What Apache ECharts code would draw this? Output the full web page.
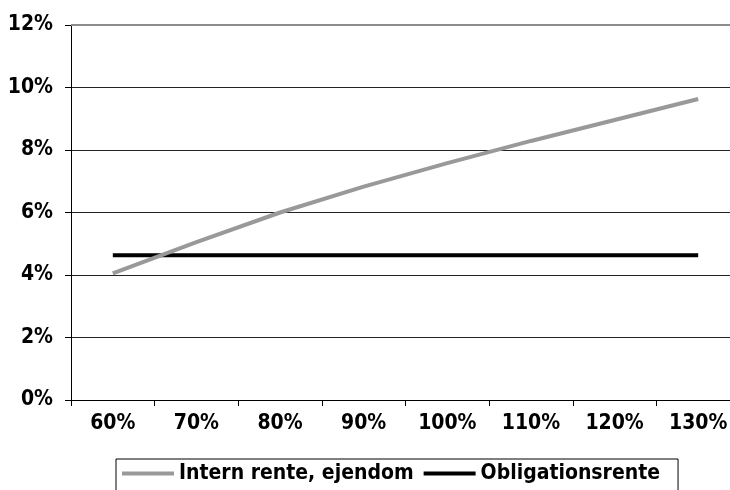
<!DOCTYPE html>
<html>
<head>
<meta charset="utf-8">
<script src="https://cdn.jsdelivr.net/npm/echarts@6/dist/echarts.min.js"></script>
<style>
  html, body { margin: 0; padding: 0; background: #fff; }
  #chart { width: 730px; height: 490px; }
</style>
</head>
<body>
<div id="chart"></div>
<script>
// Belåningsgrad (kategorier) og renter i procent
const categories = ['60%', '70%', '80%', '90%', '100%', '110%', '120%', '130%'];
const internRente = [4.05, 5.05, 6.0, 6.83, 7.58, 8.29, 8.96, 9.63];
const obligationsRente = [4.63, 4.63, 4.63, 4.63, 4.63, 4.63, 4.63, 4.63];
const seriesNames = ['Intern rente, ejendom', 'Obligationsrente'];

const FONT = '"DejaVu Sans Condensed", "DejaVu Sans", sans-serif';

const chart = echarts.init(document.getElementById('chart'), null, { renderer: 'canvas' });
chart.setOption({
  animation: false,
  backgroundColor: '#ffffff',
  // plot area runs a little past the right edge of the canvas
  grid: { left: 71, top: 25, width: 669, height: 375, outerBoundsMode: 'none' },
  xAxis: {
    type: 'category',
    data: categories,
    boundaryGap: true,
    axisLine: { lineStyle: { color: '#000', width: 1 } },
    axisTick: { show: true, length: 6, lineStyle: { color: '#000' } },
    axisLabel: { color: '#000', fontFamily: FONT, fontWeight: 'bold', fontSize: 21, margin: 13 },
    splitLine: { show: false }
  },
  yAxis: {
    type: 'value',
    min: 0, max: 12, interval: 2,
    axisLine: { show: true, lineStyle: { color: '#000', width: 1 } },
    axisTick: { show: true, length: 6, lineStyle: { color: '#000' } },
    axisLabel: { color: '#000', fontFamily: FONT, fontWeight: 'bold', fontSize: 21, margin: 18, formatter: '{value}%' },
    splitLine: { show: true, lineStyle: { color: '#222', width: 1 } }
  },
  legend: {
    left: 116, top: 459,
    padding: [4, 18, 12, 6],
    borderColor: '#000', borderWidth: 1,
    itemGap: 10,
    icon: 'rect',
    itemWidth: 52, itemHeight: 4,
    textStyle: { color: '#000', fontFamily: FONT, fontWeight: 'bold', fontSize: 21, padding: [0, 0, 0, 0] },
    data: seriesNames
  },
  series: [
    {
      name: seriesNames[0],
      type: 'line',
      data: internRente,
      symbol: 'none',
      smooth: false,
      lineStyle: { color: '#999999', width: 4 },
      itemStyle: { color: '#999999' },
      markLine: {
        silent: true,
        symbol: 'none',
        label: { show: false },
        lineStyle: { color: '#8c8c8c', width: 2, type: 'solid' },
        data: [{ yAxis: 12 }]
      },
      z: 3
    },
    {
      name: seriesNames[1],
      type: 'line',
      data: obligationsRente,
      symbol: 'none',
      lineStyle: { color: '#000000', width: 4 },
      itemStyle: { color: '#000000' },
      z: 2
    }
  ]
});
</script>
</body>
</html>
